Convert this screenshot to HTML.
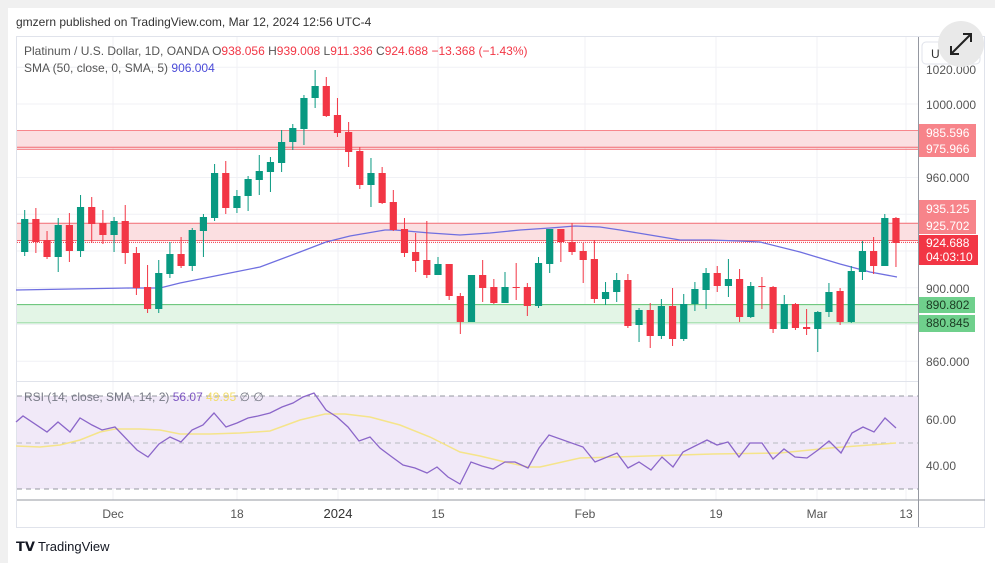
<!DOCTYPE html>
<html><head><meta charset="utf-8"><style>
html,body{margin:0;padding:0;width:995px;height:563px;overflow:hidden;background:#f0f0f0;font-family:"Liberation Sans",sans-serif}
svg{position:absolute;left:0;top:0}
text{font-family:"Liberation Sans",sans-serif}
</style></head><body>
<svg id="s" width="995" height="563" viewBox="0 0 995 563">
<rect x="8" y="8" width="987" height="555" fill="#fff"/>
<text x="16" y="26" font-size="12" fill="#333">gmzern published on TradingView.com, Mar 12, 2024 12:56 UTC-4</text>
<rect x="16.5" y="36.5" width="968" height="491" fill="#fff" stroke="#e0e3eb"/>
<g id="grid" stroke="#f0f1f5" stroke-width="1"></g>
<!-- zones -->
<rect x="17" y="130.5" width="901" height="17.7" fill="#fbdfe1"/>
<line x1="17" x2="918" y1="130.5" y2="130.5" stroke="#f7868c"/>
<line x1="17" x2="918" y1="147.2" y2="147.2" stroke="#f26b73"/>
<line x1="17" x2="918" y1="149.2" y2="149.2" stroke="#f26b73"/>
<rect x="17" y="223.2" width="901" height="17.3" fill="#fbdfe1"/>
<line x1="17" x2="918" y1="223.2" y2="223.2" stroke="#f26b73"/>
<line x1="17" x2="918" y1="240.5" y2="240.5" stroke="#f26b73"/>
<line x1="17" x2="918" y1="242.4" y2="242.4" stroke="#f23645" stroke-dasharray="1 1"/>
<rect x="17" y="304.6" width="901" height="18.3" fill="#e3f5e6"/>
<line x1="17" x2="918" y1="304.6" y2="304.6" stroke="#5cc16e"/>
<line x1="17" x2="918" y1="322.9" y2="322.9" stroke="#8fd69b"/>
<polyline fill="none" stroke="#6f6fe0" stroke-width="1.3" points="16,290 130,288 160,288 180,283 215,276 260,267 300,252 326,242 350,236 385,230 395,230 430,233 460,235 490,233 520,230 550,228 575,226 600,227 620,230 650,235 680,240 710,240 740,241 760,242 800,252 840,264 870,272 897,277"/>
<g id="candles"></g>
<!-- RSI pane -->
<line x1="17" x2="918" y1="381.5" y2="381.5" stroke="#e0e3eb"/>
<rect x="17" y="396" width="901" height="93" fill="#f1e9f8"/>
<line x1="17" x2="918" y1="396" y2="396" stroke="#9598a1" stroke-dasharray="5 4"/>
<line x1="17" x2="918" y1="443" y2="443" stroke="#b8bac1" stroke-dasharray="5 4"/>
<line x1="17" x2="918" y1="489" y2="489" stroke="#9598a1" stroke-dasharray="5 4"/>
<polyline fill="none" stroke="#f5e48a" stroke-width="1.5" points="16,446 40,447 60,445 80,440 100,432 115,429 140,429 160,430 180,434 210,434 240,433 270,431 300,420 325,414 345,414 370,417 400,425 430,437 460,452 480,456 505,462 528,467 540,467 580,458 647,456 713,454 780,453 830,448 896,443"/>
<polyline fill="none" stroke="#8b66c9" stroke-width="1.3" points="16,422 23,416 47,432 58,422 70,432 80,418 92,425 102,430 115,427 137,450 148,457 159,444 170,437 181,442 192,430 203,425 214,413 226,427 237,423 248,418 258,416 270,413 282,407 293,403 303,397 314,393 326,410 337,417 348,427 359,441 370,437 380,448 392,457 403,465 415,468 427,473 437,467 448,477 460,484 471,462 482,466 493,469 505,462 515,462 528,468 539,448 549,435 583,447 595,462 617,453 628,468 639,462 651,470 662,457 673,467 683,452 707,440 717,445 728,442 739,457 750,443 762,443 773,459 784,449 795,457 807,458 818,450 829,441 841,453 852,433 863,427 874,432 885,418 896,428"/>
<text x="24" y="401" font-size="12" fill="#787b86">RSI (14, close, SMA, 14, 2) <tspan fill="#7e57c2">56.07</tspan> <tspan fill="#f2dc6a">49.95</tspan> <tspan fill="#787b86">∅ ∅</tspan></text>
<line x1="17" x2="985" y1="500" y2="500" stroke="#9598a1"/>
<line x1="918.5" x2="918.5" y1="37" y2="527" stroke="#9598a1"/>
<g font-size="12" fill="#555" text-anchor="middle">
<text x="113" y="518">Dec</text><text x="237" y="518">18</text><text x="338" y="518" font-size="13" fill="#333">2024</text><text x="438" y="518">15</text><text x="585" y="518">Feb</text><text x="716" y="518">19</text><text x="817" y="518">Mar</text><text x="906" y="518">13</text>
</g>
<!-- price axis -->
<g font-size="12" fill="#555">
<text x="926" y="74">1020.000</text>
<text x="926" y="109">1000.000</text>
<text x="926" y="182">960.000</text>
<text x="926" y="293">900.000</text>
<text x="926" y="366">860.000</text>
<text x="926" y="424">60.00</text>
<text x="926" y="470">40.00</text>
</g>
<rect x="919" y="124" width="57" height="33" fill="#f7848a"/>
<text x="926" y="137" font-size="12" fill="#fff">985.596</text>
<text x="926" y="153" font-size="12" fill="#fff">975.966</text>
<rect x="919" y="200" width="57" height="34" fill="#f7848a"/>
<text x="926" y="213" font-size="12" fill="#fff">935.125</text>
<text x="926" y="230" font-size="12" fill="#fff">925.702</text>
<rect x="919" y="235" width="59" height="30" fill="#f23645"/>
<text x="926" y="247" font-size="12" fill="#fff">924.688</text>
<text x="926" y="261" font-size="12" fill="#fff">04:03:10</text>
<rect x="919" y="297" width="56" height="16" fill="#6fd08c"/>
<text x="926" y="309" font-size="12" fill="#1b3a22">890.802</text>
<rect x="919" y="315" width="56" height="17" fill="#6fd08c"/>
<text x="926" y="327" font-size="12" fill="#1b3a22">880.845</text>
<rect x="922" y="42" width="58" height="22" rx="4" fill="#fff" stroke="#e0e3eb"/>
<text x="931" y="58" font-size="12" fill="#333">U</text>
<circle cx="961" cy="44" r="23" fill="#e9e9e9"/>
<g stroke="#222" stroke-width="2" fill="none"><line x1="951" y1="54" x2="971" y2="34"/><polyline points="963,34 971,34 971,42"/><polyline points="951,46 951,54 959,54"/></g>
<!-- legend -->
<text x="24" y="55" font-size="12" fill="#555">Platinum / U.S. Dollar, 1D, OANDA  O<tspan fill="#f23645">938.056</tspan>  H<tspan fill="#f23645">939.008</tspan>  L<tspan fill="#f23645">911.336</tspan>  C<tspan fill="#f23645">924.688</tspan>  <tspan fill="#f23645">−13.368 (−1.43%)</tspan></text>
<text x="24" y="72" font-size="12" fill="#555">SMA (50, close, 0, SMA, 5)  <tspan fill="#4b4bd8">906.004</tspan></text>
<text x="16" y="551" font-size="13" font-weight="bold" fill="#131722">𝗧𝗩</text>
<text x="38" y="551" font-size="13" fill="#131722">TradingView</text>
</svg>
<script>
var NS="http://www.w3.org/2000/svg";
var g=document.getElementById('grid');
[113,237,338,438,585,716,817,906].forEach(function(x){var l=document.createElementNS(NS,'line');l.setAttribute('x1',x);l.setAttribute('x2',x);l.setAttribute('y1',37);l.setAttribute('y2',500);g.appendChild(l);});
for(var p=860;p<=1020;p+=20){var y=104+(1000-p)*1.8375;var l=document.createElementNS(NS,'line');l.setAttribute('x1',17);l.setAttribute('x2',918);l.setAttribute('y1',y);l.setAttribute('y2',y);g.appendChild(l);}
[419,466].forEach(function(y){var l=document.createElementNS(NS,'line');l.setAttribute('x1',17);l.setAttribute('x2',918);l.setAttribute('y1',y);l.setAttribute('y2',y);g.appendChild(l);});
// [color, bodyTop, bodyBot, wickTop, wickBot]
var C=[
['g',219,252,210,256],['r',219,242,208,253],['r',240,257,231,259],['g',225,257,218,272],['r',225,251,213,262],
['g',207,251,195,257],['r',207,224,197,243],['r',223,235,210,244],['g',221,235,217,252],['r',221,253,205,264],
['r',253,288,247,295],['r',287,309,265,313],['g',273,309,260,313],['g',254,274,242,278],['r',254,266,237,268],
['g',230,266,228,271],['g',217,231,214,257],['g',173,218,164,221],['r',173,208,161,214],['g',196,208,190,213],
['g',179,196,176,211],['g',171,180,155,195],['g',162,172,157,192],['g',142,163,130,172],['g',128,142,124,150],
['g',98,129,95,145],['g',86,98,70,108],['r',86,116,77,117],['r',115,133,98,137],['r',132,152,122,167],
['r',151,185,147,189],['g',173,185,158,207],['r',173,203,167,204],['r',202,230,190,231],['r',229,253,218,257],
['r',252,261,233,272],['r',260,275,221,278],['g',264,275,257,275],['r',264,296,264,300],['r',296,322,293,334],
['g',275,322,275,322],['r',275,288,260,302],['r',287,303,279,304],['g',287,303,272,303],['r',287,288,263,300],
['r',287,306,283,316],['g',263,306,257,308],['g',229,264,229,273],['r',229,242,229,262],['r',242,252,223,255],
['r',251,260,243,283],['r',259,299,240,303],['g',292,299,282,305],['g',280,292,273,302],['r',280,326,274,328],
['g',310,325,308,342],['r',310,336,303,348],['g',306,336,299,339],['r',306,339,288,346],['g',304,339,294,341],
['g',289,304,282,311],['g',273,290,268,309],['r',273,286,266,292],['g',279,286,259,297],['r',279,317,269,322],
['g',286,317,282,318],['r',286,287,277,309],['r',287,329,286,333],['g',304,329,295,329],['r',304,328,303,330],
['r',327,329,309,335],['g',312,329,311,352],['g',292,312,283,317],['r',291,322,288,325],['g',271,322,266,323],
['g',251,272,241,280],['r',251,266,237,274],['g',218,266,214,266],['r',218,243,217,267]];
var cg=document.getElementById('candles');
C.forEach(function(c,i){var x=24.7+i*11.17;var col=c[0]=='g'?'#089981':'#f23645';
var w=document.createElementNS(NS,'line');w.setAttribute('x1',x);w.setAttribute('x2',x);w.setAttribute('y1',c[3]);w.setAttribute('y2',c[4]);w.setAttribute('stroke',col);cg.appendChild(w);
var r=document.createElementNS(NS,'rect');r.setAttribute('x',x-3.6);r.setAttribute('width',7.2);r.setAttribute('y',c[1]);r.setAttribute('height',Math.max(1,c[2]-c[1]));r.setAttribute('fill',col);cg.appendChild(r);});
</script>
</body></html>
